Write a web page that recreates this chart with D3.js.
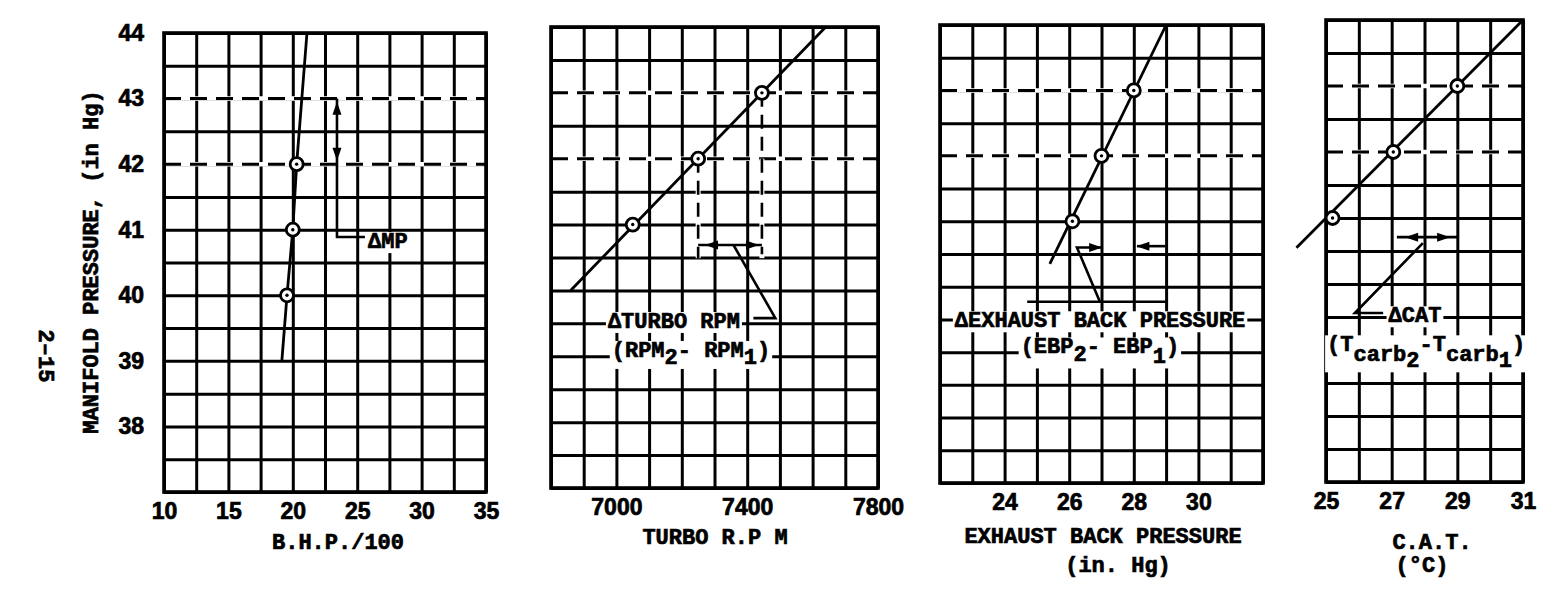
<!DOCTYPE html>
<html><head><meta charset="utf-8">
<script src="https://cdn.jsdelivr.net/npm/d3@7"></script>
<style>
html,body{margin:0;padding:0;background:#fff;}
svg{display:block;}
</style></head><body>
<svg id="chart" width="1549" height="590"></svg>
<script>
// ---------- data ----------
const mpTicks = [38, 39, 40, 41, 42, 43, 44];
const refMP = [42, 43];                       // dashed reference levels

const bhpTicks = [10, 15, 20, 25, 30, 35];
const bhpPts = [19.55, 20.0, 20.3];
const bhpPtsMP = [40, 41, 42];
const bhpCurve = [19.15, 19.55, 20.0, 20.3, 21.1];
const bhpCurveMP = [39, 40, 41, 42, 44];

const rpmTicks = [7000, 7400, 7800];
const rpmPts = [7050, 7250, 7445];
const rpmPtsMP = [41, 42, 43];
const rpmCurve = [6860, 7640];
const rpmCurveMP = [40, 44];

const ebpTicks = [24, 26, 28, 30];
const ebpPts = [26.1, 27.0, 28.0];
const ebpPtsMP = [41, 42, 43];
const ebpCurve = [25.4, 29.0];
const ebpCurveMP = [40.35, 44];

const catTicks = [25, 27, 29, 31];
const catPts = [25.2, 27.05, 29.0];
const catPtsMP = [41, 42, 43];
const catCurve = [24.1, 31.0];
const catCurveMP = [40.55, 44];

// ---------- setup ----------
const svg = d3.select('#chart');
svg.append('rect').attr('width', 1549).attr('height', 590).attr('fill', '#fff');
const FT = "'Liberation Mono','DejaVu Sans Mono',monospace";
const FN = "'Liberation Sans',Arial,sans-serif";
const GRID_W = 3, BORDER_W = 3.6, LINE_W = 2.8;

const panels = [
  {key: 'bhp', box: {l: 164, r: 486, t: 33, b: 492}, xDomain: [10, 35], xStep: 2.5,
   xTicks: bhpTicks, pts: bhpPts, ptsMP: bhpPtsMP, curve: bhpCurve, curveMP: bhpCurveMP, yAxis: true},
  {key: 'rpm', box: {l: 551, r: 878, t: 27, b: 488}, xDomain: [6800, 7800], xStep: 100,
   xTicks: rpmTicks, pts: rpmPts, ptsMP: rpmPtsMP, curve: rpmCurve, curveMP: rpmCurveMP},
  {key: 'ebp', box: {l: 940, r: 1263, t: 25, b: 483}, xDomain: [22, 32], xStep: 1,
   xTicks: ebpTicks, pts: ebpPts, ptsMP: ebpPtsMP, curve: ebpCurve, curveMP: ebpCurveMP},
  {key: 'cat', box: {l: 1326, r: 1523, t: 20, b: 482}, xDomain: [25, 31], xStep: 1,
   xTicks: catTicks, pts: catPts, ptsMP: catPtsMP, curve: catCurve, curveMP: catCurveMP}
];

function head(g, x, y, dir) {
  const L = 13, w = 4.5;
  let p;
  if (dir === 'r') p = [[x, y], [x - L, y - w], [x - L, y + w]];
  if (dir === 'l') p = [[x, y], [x + L, y - w], [x + L, y + w]];
  if (dir === 'u') p = [[x, y], [x - w, y + L], [x + w, y + L]];
  if (dir === 'd') p = [[x, y], [x - w, y - L], [x + w, y - L]];
  g.append('path').attr('d', 'M' + p.map(q => q.join(',')).join('L') + 'Z').attr('fill', '#000');
}

function seg(g, pts) {
  g.append('path').attr('d', d3.line()(pts)).attr('fill', 'none')
    .attr('stroke', '#000').attr('stroke-width', 2.6);
}

function boldify(sel) {
  return sel.attr('stroke', '#000').attr('stroke-width', 0.7).attr('paint-order', 'stroke');
}

function label(g, x, y, anchor, parts, size) {
  const t = g.append('text').attr('x', x).attr('y', y).attr('text-anchor', anchor)
    .attr('font-family', FT).attr('font-weight', 'bold').attr('font-size', size || 22).attr('fill', '#000');
  boldify(t);
  parts.forEach(p => {
    if (typeof p === 'string') t.append('tspan').text(p);
    else t.append('tspan').attr('dy', p.dy).text(p.t);
  });
  const bb = t.node().getBBox();
  g.insert('rect', () => t.node()).attr('x', bb.x - 2).attr('y', bb.y + 2)
    .attr('width', bb.width + 4).attr('height', bb.height - 4).attr('fill', '#fff');
  return t;
}

panels.forEach(P => {
  const {l, r, t, b} = P.box;
  const x = d3.scaleLinear().domain(P.xDomain).range([l, r]);
  const y = d3.scaleLinear().domain([37, 44]).range([b, t]);
  P.x = x; P.y = y;
  const g = svg.append('g').attr('class', 'panel-' + P.key);

  const xGrid = d3.range(P.xDomain[0], P.xDomain[1] + P.xStep / 2, P.xStep);
  const yGrid = d3.range(37, 44.25, 0.5);

  // grid via axes
  const gx = g.append('g').attr('transform', `translate(0,${b})`)
    .call(d3.axisBottom(x).tickValues(xGrid).tickSize(-(b - t)).tickFormat(''));
  const gy = g.append('g').attr('transform', `translate(${l},0)`)
    .call(d3.axisLeft(y).tickValues(yGrid).tickSize(-(r - l)).tickFormat(''));
  [gx, gy].forEach(a => {
    a.select('.domain').remove();
    a.selectAll('line').attr('stroke', '#000').attr('stroke-width', GRID_W);
  });
  g.append('rect').attr('x', l).attr('y', t).attr('width', r - l).attr('height', b - t)
    .attr('fill', 'none').attr('stroke', '#000').attr('stroke-width', BORDER_W);

  // dashed reference levels (drawn over white gaps)
  refMP.forEach(v => {
    g.append('line').attr('x1', l + 2).attr('x2', r - 2).attr('y1', y(v)).attr('y2', y(v))
      .attr('stroke', '#fff').attr('stroke-width', 4.5);
    g.append('line').attr('x1', l).attr('x2', r).attr('y1', y(v)).attr('y2', y(v))
      .attr('stroke', '#000').attr('stroke-width', GRID_W).attr('stroke-dasharray', '17,9');
  });

  // tick labels
  const ax = g.append('g').attr('transform', `translate(0,${b})`)
    .call(d3.axisBottom(x).tickValues(P.xTicks).tickSize(0).tickPadding(11).tickFormat(d3.format('d')));
  ax.select('.domain').remove();
  boldify(ax.selectAll('text').attr('font-family', FN).attr('font-weight', 'bold').attr('font-size', 23).attr('fill', '#000'));
  if (P.yAxis) {
    const ay = g.append('g').attr('transform', `translate(${l},0)`)
      .call(d3.axisLeft(y).tickValues(mpTicks).tickSize(0).tickPadding(20).tickFormat(d3.format('d')));
    ay.select('.domain').remove();
    boldify(ay.selectAll('text').attr('font-family', FN).attr('font-weight', 'bold').attr('font-size', 23).attr('fill', '#000'));
  }
  P.g = g;
});

// ---------- annotations ----------
{
  const P = panels[0], g = P.g, x = P.x, y = P.y;
  label(g, x(25.84), y(40.72), 'start', ['ΔMP']);
  seg(g, [[x(23.43), y(43)], [x(23.43), y(40.89)], [x(25.6), y(40.89)]]);
  head(g, x(23.43), y(42.95), 'u');
  head(g, x(23.43), y(42.05), 'd');
}
{
  const P = panels[1], g = P.g, x = P.x, y = P.y;
  label(g, x(7176), y(39.43), 'middle', ['ΔTURBO RPM']);
  label(g, x(7228), y(38.99), 'middle', ['(RPM', {t: '2', dy: 7}, {t: '- RPM', dy: -7}, {t: '1', dy: 7}, {t: ')', dy: -7}]);
  [rpmPts[1], rpmPts[2]].forEach(v => {
    g.append('line').attr('x1', x(v)).attr('x2', x(v)).attr('y1', y(42)).attr('y2', y(40.49))
      .attr('stroke', '#fff').attr('stroke-width', 5);
  });
  g.append('line').attr('x1', x(rpmPts[1])).attr('x2', x(rpmPts[1])).attr('y1', y(42)).attr('y2', y(40.49))
    .attr('stroke', '#000').attr('stroke-width', 2.6).attr('stroke-dasharray', '14,8');
  g.append('line').attr('x1', x(rpmPts[2])).attr('x2', x(rpmPts[2])).attr('y1', y(43)).attr('y2', y(40.55))
    .attr('stroke', '#000').attr('stroke-width', 2.6).attr('stroke-dasharray', '14,8');
  seg(g, [[x(rpmPts[1]), y(40.69)], [x(rpmPts[2]), y(40.69)]]);
  head(g, x(7271), y(40.69), 'l');
  head(g, x(7436), y(40.69), 'r');
  seg(g, [[x(7358), y(40.69)], [x(7486), y(39.58)], [x(7419), y(39.58)]]);
}
{
  const P = panels[2], g = P.g, x = P.x, y = P.y;
  label(g, x(22.46), y(39.38), 'start', ['ΔEXHAUST BACK PRESSURE']);
  label(g, x(26.95), y(38.98), 'middle', ['(EBP', {t: '2', dy: 8}, {t: '- EBP', dy: -8}, {t: '1', dy: 10}, {t: ')', dy: -10}]);
  seg(g, [[x(24.7), y(39.77)], [x(29.06), y(39.77)]]);
  seg(g, [[x(26.95), y(39.77)], [x(26.24), y(40.6)], [x(27.0), y(40.6)]]);
  head(g, x(27.02), y(40.6), 'r');
  seg(g, [[x(28.97), y(40.62)], [x(28.1), y(40.62)]]);
  head(g, x(28.08), y(40.62), 'l');
}
{
  const P = panels[3], g = P.g, x = P.x, y = P.y;
  label(g, x(27.71), y(39.42), 'middle', ['ΔCAT']);
  label(g, x(28.05), y(38.98), 'middle', ['(T', {t: 'carb', dy: 10}, {t: '2', dy: 6}, {t: '-T', dy: -16},
    {t: 'carb', dy: 10}, {t: '1', dy: 6}, {t: ')', dy: -16}]);
  seg(g, [[x(27.16), y(40.71)], [x(29.05), y(40.71)]]);
  head(g, x(27.41), y(40.71), 'l');
  head(g, x(28.78), y(40.71), 'r');
  seg(g, [[x(26.74), y(39.56)], [x(25.88), y(39.56)], [x(27.95), y(40.62)]]);
}

// ---------- data curves and points ----------
panels.forEach(P => {
  const g = P.g, x = P.x, y = P.y;
  const pts = P.curve.map((v, i) => [x(v), y(P.curveMP[i])]);
  g.append('path').attr('d', d3.line()(pts)).attr('fill', 'none')
    .attr('stroke', '#000').attr('stroke-width', LINE_W);
  P.pts.forEach((v, i) => {
    g.append('circle').attr('cx', x(v)).attr('cy', y(P.ptsMP[i])).attr('r', 6.5)
      .attr('fill', '#fff').attr('stroke', '#000').attr('stroke-width', 2.8);
    g.append('circle').attr('cx', x(v)).attr('cy', y(P.ptsMP[i])).attr('r', 1.7).attr('fill', '#000');
  });
});

// ---------- axis titles ----------
function title(x, y, txt, rot) {
  const t = svg.append('text').attr('x', x).attr('y', y).attr('text-anchor', 'middle')
    .attr('dominant-baseline', 'central').attr('font-family', FT).attr('font-weight', 'bold')
    .attr('font-size', 22).attr('fill', '#000').text(txt);
  boldify(t);
  if (rot) t.attr('transform', `rotate(${rot},${x},${y})`);
  return t;
}
title(338, 543, 'B.H.P./100');
title(715, 538, 'TURBO R.P M');
title(1103, 537, 'EXHAUST BACK PRESSURE');
title(1118, 566, '(in. Hg)');
title(1432, 543, 'C.A.T.');
title(1422, 566, '(°C)');
title(92, 262, 'MANIFOLD PRESSURE, (in Hg)', -90);
title(44, 356, '2–15', 90);
</script>
</body></html>
